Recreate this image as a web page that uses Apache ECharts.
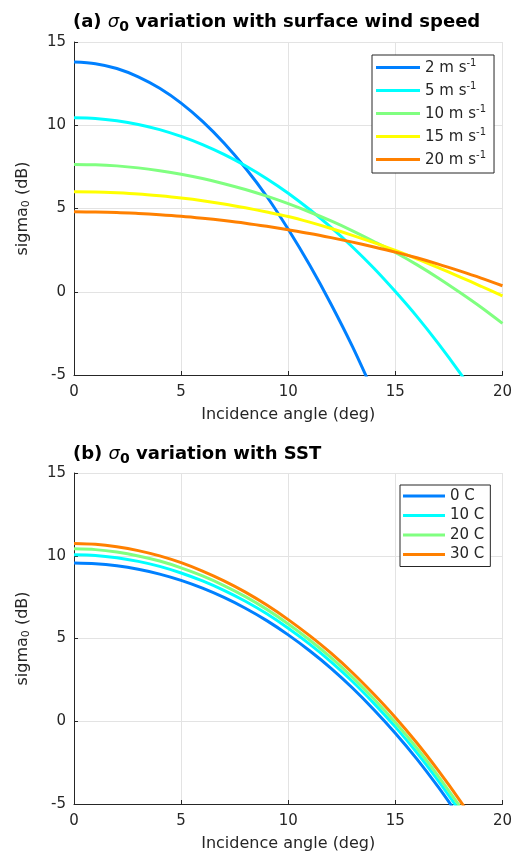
<!DOCTYPE html>
<html>
<head>
<meta charset="utf-8">
<script src="https://cdn.jsdelivr.net/npm/echarts@6/dist/echarts.min.js"></script>
<style>html,body{margin:0;padding:0;background:#fff}#c{width:515px;height:853px}</style>
</head>
<body>
<div id="c"></div>
<script>
// ---- data ----
const angles = [0,1,2,3,4,5,6,7,8,9,10,11,12,13,14,15,16,17,18,19,20];
const xTicks = [0,5,10,15,20];
const yTicks = [-5,0,5,10,15];

// (a) sigma0 vs incidence angle for wind speeds
const windNames = ['2 m s-1','5 m s-1','10 m s-1','15 m s-1','20 m s-1'];
const wind2  = [13.8,13.7,13.41,12.91,12.22,11.33,10.23,8.93,7.43,5.72,3.75,1.6,-0.75,-3.3,-6.1];
const wind5  = [10.45,10.41,10.27,10.05,9.74,9.33,8.84,8.25,7.57,6.79,5.92,4.94,3.87,2.69,1.41,0.01,-1.48,-3.1,-4.84,-6.7];
const wind10 = [7.65,7.63,7.56,7.44,7.27,7.06,6.8,6.49,6.14,5.74,5.29,4.79,4.25,3.66,3.02,2.36,1.63,0.83,-0.03,-0.93,-1.9];
const wind15 = [6.0,5.99,5.94,5.87,5.76,5.63,5.47,5.27,5.04,4.79,4.52,4.18,3.8,3.39,2.95,2.48,1.98,1.45,0.9,0.33,-0.25];
const wind20 = [4.8,4.79,4.76,4.7,4.63,4.54,4.42,4.28,4.12,3.93,3.72,3.5,3.25,2.98,2.69,2.38,2.04,1.66,1.25,0.82,0.36];

// (b) sigma0 vs incidence angle for SST
const sstNames = ['0 C','10 C','20 C','30 C'];
const sst0  = [9.56,9.52,9.39,9.18,8.89,8.51,8.04,7.48,6.83,6.08,5.22,4.26,3.2,2.01,0.7,-0.72,-2.27,-3.97,-5.8];
const sst10 = [10.06,10.02,9.88,9.66,9.36,8.96,8.48,7.91,7.25,6.49,5.62,4.66,3.59,2.4,1.08,-0.34,-1.89,-3.59,-5.42];
const sst20 = [10.42,10.37,10.22,9.99,9.68,9.27,8.78,8.2,7.53,6.76,5.88,4.91,3.84,2.65,1.34,-0.08,-1.62,-3.31,-5.12];
const sst30 = [10.74,10.69,10.54,10.31,9.99,9.58,9.07,8.48,7.8,7.02,6.14,5.17,4.11,2.93,1.63,0.23,-1.3,-2.97,-4.76,-6.7];

const lineColors = ['#0080ff','#00ffff','#80ff80','#ffff00','#ff8000'];
const sstColors = ['#0080ff','#00ffff','#80ff80','#ff8000'];

// ---- chart ----
const FONT = 'DejaVu Sans';
const TXT = '#262626';
function pair(vals){ return vals.map((v,i)=>[angles[i], v]); }

function xAx(gi){
  return {
    type:'value', gridIndex:gi, min:xTicks[0], max:xTicks[xTicks.length-1], interval:xTicks[1]-xTicks[0],
    name:'Incidence angle (deg)', nameLocation:'middle', nameGap:32,
    nameTextStyle:{fontFamily:FONT, fontSize:16, color:TXT},
    axisLine:{show:true, onZero:false, lineStyle:{color:TXT, width:1}},
    axisTick:{show:true, inside:true, length:4, lineStyle:{color:TXT}},
    axisLabel:{fontFamily:FONT, fontSize:15, color:TXT, margin:10},
    splitLine:{show:true, lineStyle:{color:'#e3e3e3', width:1}}
  };
}
function yAx(gi){
  return {
    type:'value', gridIndex:gi, min:yTicks[0], max:yTicks[yTicks.length-1], interval:yTicks[1]-yTicks[0],
    name:'{a|sigma}{sub|0}{a| (dB)}', nameLocation:'middle', nameGap:42, nameRotate:90,
    nameTextStyle:{rich:{
      a:{fontFamily:FONT, fontSize:16, color:TXT},
      sub:{fontFamily:FONT, fontSize:11, color:TXT, verticalAlign:'bottom', padding:[7,0,0,0]}
    }},
    axisLine:{show:true, onZero:false, lineStyle:{color:TXT, width:1}},
    axisTick:{show:true, inside:true, length:4, lineStyle:{color:TXT}},
    axisLabel:{fontFamily:FONT, fontSize:15, color:TXT, margin:8},
    splitLine:{show:true, lineStyle:{color:'#e3e3e3', width:1}}
  };
}

const titleRich = {
  b:{fontFamily:FONT, fontSize:18, fontWeight:'bold', color:'#000'},
  s:{fontFamily:FONT, fontSize:18, fontWeight:'normal', fontStyle:'italic', color:'#000'},
  sub:{fontFamily:FONT, fontSize:14, fontWeight:'bold', color:'#000', verticalAlign:'bottom', padding:[9,0,0,0]}
};

const windSeries = [wind2, wind5, wind10, wind15, wind20].map((d,i)=>({
  type:'line', name:windNames[i], xAxisIndex:0, yAxisIndex:0, data:pair(d),
  showSymbol:false, smooth:0.3, clip:true,
  lineStyle:{color:lineColors[i], width:3}, itemStyle:{color:lineColors[i]}
}));
const sstSeries = [sst0, sst10, sst20, sst30].map((d,i)=>({
  type:'line', name:sstNames[i], xAxisIndex:1, yAxisIndex:1, data:pair(d),
  showSymbol:false, smooth:0.3, clip:true,
  lineStyle:{color:sstColors[i], width:3}, itemStyle:{color:sstColors[i]}
}));

const chart = echarts.init(document.getElementById('c'), null, {renderer:'canvas'});
chart.setOption({
  animation:false,
  backgroundColor:'#fff',
  title:[
    {text:'{b|(a) }{s|σ}{sub|0}{b| variation with surface wind speed}', left:68, top:6, textStyle:{fontWeight:'normal', rich:titleRich}},
    {text:'{b|(b) }{s|σ}{sub|0}{b| variation with SST}', left:68, top:438, textStyle:{fontWeight:'normal', rich:titleRich}}
  ],
  grid:[
    {left:74, top:42, width:431, height:333},
    {left:74, top:473, width:431, height:332}
  ],
  xAxis:[xAx(0), xAx(1)],
  yAxis:[yAx(0), yAx(1)],
  legend:[
    {
      data:windNames, left:372, top:55, orient:'vertical',
      padding:[3,8,5,4], itemGap:5, itemWidth:44, itemHeight:3, icon:'rect',
      borderColor:TXT, borderWidth:1, backgroundColor:'#fff',
      formatter:function(n){ return '{t|' + n.replace(' m s-1',' m s') + '}{sup|-1}'; },
      textStyle:{rich:{
        t:{fontFamily:FONT, fontSize:15, color:TXT, lineHeight:19, padding:[2,0,0,0]},
        sup:{fontFamily:FONT, fontSize:10, color:TXT, lineHeight:19, verticalAlign:'top'}
      }}
    },
    {
      data:sstNames, left:400, top:485, orient:'vertical',
      padding:[3,6,4,3], itemGap:3.5, itemWidth:42, itemHeight:3, icon:'rect',
      borderColor:TXT, borderWidth:1, backgroundColor:'#fff',
      textStyle:{fontFamily:FONT, fontSize:15, color:TXT, lineHeight:16}
    }
  ],
  series: windSeries.concat(sstSeries)
});
</script>
</body>
</html>
